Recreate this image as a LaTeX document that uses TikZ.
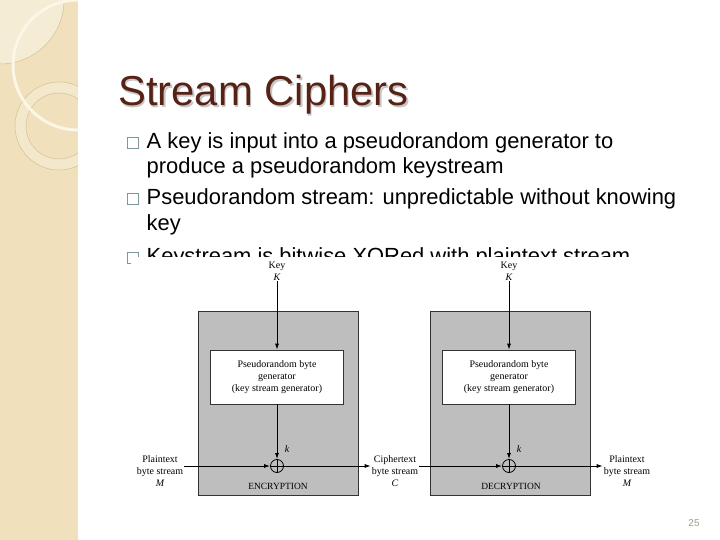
\documentclass[tikz,border=0pt]{standalone}
\usepackage{fontspec}
\setmainfont{Liberation Sans}
\newfontfamily\dgfont{Liberation Serif}
\usetikzlibrary{arrows.meta,positioning}
\definecolor{stripbg}{RGB}{240,225,188}
\definecolor{striplt}{RGB}{245,236,214}
\definecolor{stripln}{RGB}{212,192,148}
\definecolor{arccream}{RGB}{251,246,230}
\definecolor{titlebrown}{RGB}{86,34,22}
\definecolor{bulletgray}{RGB}{125,150,160}
\definecolor{unitgray}{RGB}{190,190,190}
\definecolor{pagenum}{RGB}{165,155,135}
\tikzset{
  bodytxt/.style={anchor=base west,inner sep=0pt,font=\fontsize{22}{26}\selectfont},
  bulletbox/.style={draw=bulletgray,line width=0.8bp,minimum size=11bp,inner sep=0pt},
  unitbox/.style={draw=black!80,fill=unitgray,line width=0.6bp,minimum width=160bp,minimum height=184bp},
  genbox/.style={draw=black!80,fill=white,line width=0.6bp,minimum width=133bp,minimum height=54bp,
    align=center,font=\dgfont\fontsize{10}{12}\selectfont},
  dglab/.style={align=center,inner sep=1bp,font=\dgfont\fontsize{10}{12}\selectfont},
  xorc/.style={circle,draw=black,line width=0.8bp,minimum size=13bp,inner sep=0pt,
    path picture={\draw[line width=0.8bp] (path picture bounding box.north) -- (path picture bounding box.south)
      (path picture bounding box.west) -- (path picture bounding box.east);}},
  flow/.style={-{Latex[length=6bp,width=4bp]},line width=0.9bp},
}

\begin{document}
\begin{tikzpicture}[x=1bp,y=-1bp]
  \useasboundingbox (0,0) rectangle (720,540);
  \fill[white] (0,0) rectangle (720,540);
  % left strip with its circles
  \fill[stripbg] (0,0) rectangle (78,540);
  \begin{scope}
    \clip (0,0) rectangle (78,540);
    \fill[striplt] (0,0) circle (64);
    \draw[stripln,line width=0.5bp] (0,0) circle (64);
    \fill[striplt!60!stripbg,even odd rule] (59,126) circle (44) (59,126) circle (33);
    \draw[stripln,line width=0.5bp] (59,126) circle (44) (59,126) circle (33);
    \draw[arccream,line width=3bp] (78,65) circle (65);
  \end{scope}
  % title
  \node[anchor=base west,inner sep=0pt,font=\fontsize{42}{50}\selectfont,text=black!22] at (119.5,107.5) {Stream Ciphers};
  \node[anchor=base west,inner sep=0pt,font=\fontsize{42}{50}\selectfont,text=titlebrown] (title) at (118,106) {Stream Ciphers};
  % bullets
  \node[bulletbox] (b1) at (132.5,142.5) {};
  \node[bulletbox] (b2) at (132.5,198.5) {};
  \node[bulletbox] (b3) at (132.5,257.5) {};
  \node[bodytxt] (l1) at (146.5,149) {A key is input into a pseudorandom generator to};
  \node[bodytxt] (l2) at (146.5,174) {produce a pseudorandom keystream};
  \node[bodytxt] (l3) at (146.5,205) {Pseudorandom stream: unpredictable without knowing};
  \node[bodytxt] (l4) at (146.5,231) {key};
  \node[bodytxt] (l5) at (146.5,264) {Keystream is bitwise XORed with plaintext stream};
  % the figure lies over the last line
  \fill[white] (131,257) rectangle (655,500);
  % encryption side
  \node[unitbox] (unitE) at (278,403) {};
  \node[genbox] (genE) at (277,377) {Pseudorandom byte\\generator\\(key stream generator)};
  \node[dglab] (keyE) at (277,271) {Key\\\itshape K};
  \node[xorc] (xorE) at (277,466) {};
  \node[dglab] (kE) at (287,449) {\itshape k};
  \node[dglab,font=\dgfont\fontsize{9.5}{11}\selectfont] (encE) at (278,486) {ENCRYPTION};
  \node[dglab] (ptin) at (160,471) {Plaintext\\byte stream\\\itshape M};
  \node[dglab] (ct) at (395,471) {Ciphertext\\byte stream\\\itshape C};
  % decryption side
  \node[unitbox] (unitD) at (510,403) {};
  \node[genbox] (genD) at (509,377) {Pseudorandom byte\\generator\\(key stream generator)};
  \node[dglab] (keyD) at (509,271) {Key\\\itshape K};
  \node[xorc] (xorD) at (509,466) {};
  \node[dglab] (kD) at (519,449) {\itshape k};
  \node[dglab,font=\dgfont\fontsize{9.5}{11}\selectfont] (decD) at (511,486) {DECRYPTION};
  \node[dglab] (ptout) at (627,471) {Plaintext\\byte stream\\\itshape M};
  % connectors
  \draw[flow] (keyE) -- (genE);
  \draw[flow] (genE) -- (xorE);
  \draw[flow] (ptin.east |- xorE.center) -- (xorE);
  \draw[flow] (xorE) -- (ct.west |- xorE.center);
  \draw[flow] (keyD) -- (genD);
  \draw[flow] (genD) -- (xorD);
  \draw[flow] (ct.east |- xorD.center) -- (xorD);
  \draw[flow] (xorD) -- (ptout.west |- xorD.center);
  % page number
  \node[font=\fontsize{10}{12}\selectfont,text=pagenum] (pgno) at (694,523) {25};
\end{tikzpicture}
\end{document}
